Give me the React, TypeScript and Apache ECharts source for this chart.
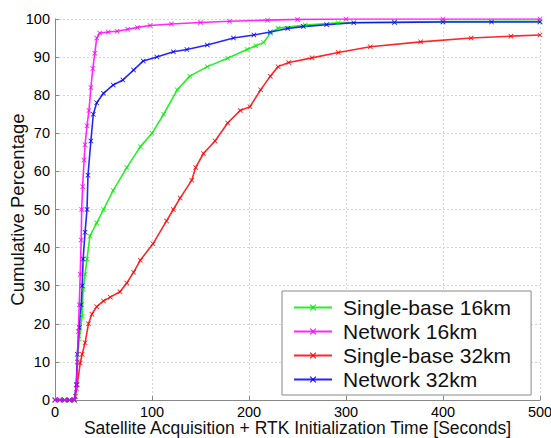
import React, { useEffect, useRef } from "react";
import * as echarts from "echarts";

const seriesNames = ["Single-base 16km", "Network 16km", "Single-base 32km", "Network 32km"];
const seriesColors = ["#00ee00", "#ff00ff", "#ff0000", "#0000ff"];

const single16: number[][] = [
  [0, 0], [5, 0], [10, 0], [15, 0], [20, 0], [22, 4], [23, 10], [25, 16], [28, 22], [29, 29], [31, 33],
  [33, 37], [36, 43], [43, 46.5], [50, 50], [60, 55], [74, 61], [88, 66.5], [100, 70], [112, 75],
  [126, 81.4], [139, 85], [157, 87.5], [178, 89.7], [198, 92], [207, 93], [215, 93.8], [222, 96.3],
  [230, 97.6], [258, 98.4], [292, 99], [350, 99.2], [400, 99.3], [500, 99.4],
];
const network16: number[][] = [
  [0, 0], [5, 0], [10, 0], [15, 0], [20, 0], [22, 3], [23, 10], [24, 18], [25, 25], [26, 33], [27, 42],
  [27.5, 50], [28.5, 56], [30, 63], [31, 67], [33, 72], [35, 76], [37, 82], [39, 87], [41, 91], [43, 95],
  [46, 96.3], [55, 96.6], [64, 96.8], [75, 97.3], [85, 97.8], [98, 98.3], [120, 98.7], [150, 99.1],
  [180, 99.4], [219, 99.7], [250, 99.9], [300, 100], [400, 100], [500, 100],
];
const single32: number[][] = [
  [0, 0], [5, 0], [10, 0], [15, 0], [20, 0], [21, 1], [23, 4], [26, 9.7], [28, 12], [31, 15], [34.5, 20],
  [38, 22.5], [43, 24.5], [50, 26], [57, 27], [67, 28.4], [74, 30.7], [81, 33.5], [88, 36.7], [101, 41],
  [115, 47], [122, 50], [129, 53], [141, 57.7], [145, 61], [153, 64.7], [165, 68], [178, 72.7], [191, 76],
  [201, 77], [212, 81.4], [222, 85], [230, 87.5], [241, 88.6], [265, 89.8], [292, 91.2], [325, 92.7],
  [377, 94], [429, 95], [470, 95.5], [500, 95.8],
];
const network32: number[][] = [
  [0, 0], [5, 0], [10, 0], [15, 0], [20, 0], [22, 4], [23, 12], [25, 19], [27, 25], [28, 30], [29, 37],
  [31, 44], [33, 50], [34, 59], [37, 68], [39.5, 75], [43, 78], [50, 80.5], [60, 82.7], [70, 84],
  [81, 86.6], [91, 89], [105, 90], [122, 91.4], [136, 92], [157, 93.2], [184, 95], [205, 95.8],
  [222, 96.6], [240, 97.5], [256, 98], [280, 98.5], [308, 99], [350, 99.1], [400, 99.2], [450, 99.2],
  [500, 99.2],
];
const seriesData = [single16, network16, single32, network32];

const xTitle = "Satellite Acquisition + RTK Initialization Time [Seconds]";
const yTitle = "Cumulative Percentage";

const xSymbol = "path://M0,1L1,0L5,4L9,0L10,1L6,5L10,9L9,10L5,6L1,10L0,9L4,5Z";

export default function App() {
  const ref = useRef<HTMLDivElement>(null);
  useEffect(() => {
    if (!ref.current) return;
    const chart = echarts.init(ref.current, undefined, { renderer: "svg" });
    const font = "Liberation Sans, Arial, sans-serif";
    chart.setOption({
      animation: false,
      backgroundColor: "#ffffff",
      textStyle: { fontFamily: font },
      grid: { left: 55, right: 11, top: 19, bottom: 38, containLabel: false, outerBoundsMode: "none" },
      legend: {
        data: seriesNames,
        orient: "vertical",
        left: 282,
        top: 291,
        width: 253,
        padding: [6, 20, 5, 11],
        itemGap: 3,
        itemWidth: 38,
        itemHeight: 8,
        backgroundColor: "#ffffff",
        borderColor: "#888888",
        borderWidth: 1,
        borderRadius: 0,
        textStyle: { fontFamily: font, fontSize: 21, color: "#111111", padding: [0, 0, 0, 6] },
      },
      xAxis: {
        type: "value",
        min: 0,
        max: 500,
        interval: 100,
        name: xTitle,
        nameLocation: "middle",
        nameGap: 19,
        nameMoveOverlap: false,
        nameTextStyle: { fontFamily: font, fontSize: 17.5, color: "#111111" },
        axisLine: { show: true, lineStyle: { color: "#888888", width: 1 } },
        axisTick: { show: true, inside: true, length: 4, lineStyle: { color: "#888888" } },
        axisLabel: { fontFamily: font, fontSize: 14.5, color: "#000000", margin: 4 },
        splitLine: { show: true, lineStyle: { color: "#d4d4d4", type: [2, 2], width: 1 } },
      },
      yAxis: {
        type: "value",
        min: 0,
        max: 100,
        interval: 10,
        name: yTitle,
        nameLocation: "middle",
        nameGap: 28,
        nameMoveOverlap: false,
        nameRotate: 90,
        nameTextStyle: { fontFamily: font, fontSize: 18.5, color: "#111111" },
        axisLine: { show: true, lineStyle: { color: "#888888", width: 1 } },
        axisTick: { show: true, inside: true, length: 4, lineStyle: { color: "#888888" } },
        axisLabel: { fontFamily: font, fontSize: 14.5, color: "#000000", margin: 5 },
        splitLine: { show: true, lineStyle: { color: "#d4d4d4", type: [2, 2], width: 1 } },
      },
      series: seriesNames.map((name, i) => ({
        name,
        type: "line",
        data: seriesData[i],
        symbol: xSymbol,
        symbolSize: 5,
        showSymbol: true,
        color: seriesColors[i],
        lineStyle: { color: seriesColors[i], width: 1.6, opacity: 0.85 },
        itemStyle: { color: seriesColors[i] },
        z: [3, 4, 2, 3][i],
      })),
    });
    return () => chart.dispose();
  }, []);
  return (
    <div
      ref={ref}
      style={{ position: "absolute", left: 0, top: 0, width: 551, height: 438 }}
    />
  );
}
